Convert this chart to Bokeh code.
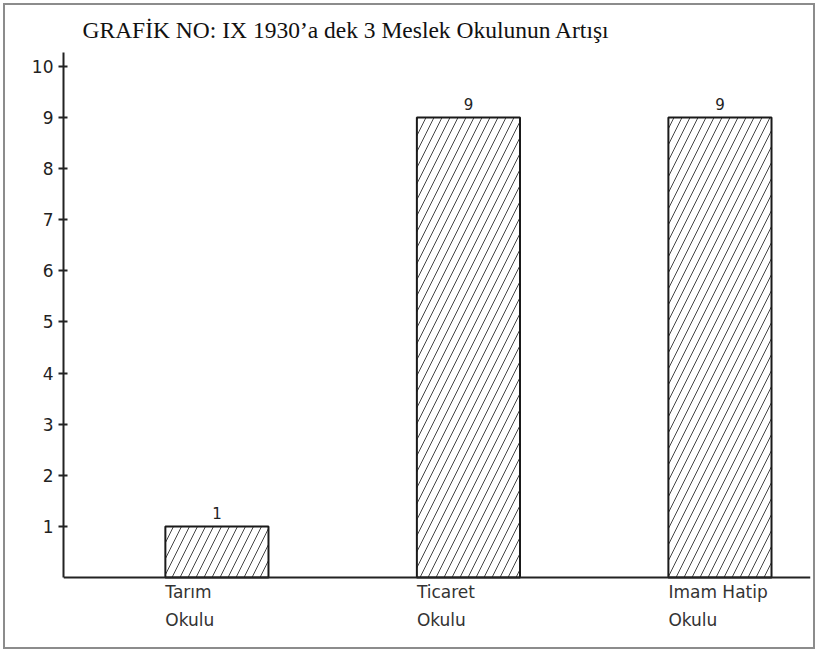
from bokeh.plotting import figure
from bokeh.models import Range1d, FixedTicker, Title, ColumnDataSource
from bokeh.core.properties import value
from bokeh.embed import file_html
from bokeh.resources import INLINE

# data
categories_line1 = ["Tarım", "Ticaret", "Imam Hatip"]
categories_line2 = ["Okulu", "Okulu", "Okulu"]
counts = [1, 9, 9]
y_ticks = [1, 2, 3, 4, 5, 6, 7, 8, 9, 10]
title_text = "GRAFİK NO: IX 1930’a dek 3 Meslek Okulunun Artışı"

bar_w = 0.41
xs = list(range(len(counts)))

p = figure(width=812, height=646, output_backend="svg", toolbar_location=None,
           x_range=Range1d(-0.61, 2.36), y_range=Range1d(-1.33, 10.27),
           x_axis_location=None,
           min_border_left=58, min_border_right=7, min_border_top=47, min_border_bottom=6)
p.title = Title(text=title_text, align="left", offset=19,
                text_font="Liberation Serif", text_font_size="23.5px",
                text_font_style="normal", text_color="#111111", standoff=19)
p.outline_line_color = None
p.grid.visible = False
p.background_fill_color = "white"
p.border_fill_color = "white"
p.styles = {"border": "2px solid #8c8c8c", "margin": "3px"}

src = ColumnDataSource(dict(x=xs, top=counts, lab=[str(c) for c in counts]))
p.vbar(x="x", top="top", width=bar_w, source=src, fill_color="white",
       line_color="#1a1a1a", line_width=2,
       hatch_pattern="right_diagonal_line", hatch_color="#444444",
       hatch_scale=16, hatch_weight=1)
p.text(x="x", y="top", text="lab", source=src, text_align="center",
       text_baseline="bottom", y_offset=-7, text_font=value("DejaVu Sans"),
       text_font_size="15px", text_color="#222222")

# baseline (x axis line) at zero
p.segment(x0=[-0.61], y0=[0], x1=[2.36], y1=[0], line_color="#222222", line_width=2)

# category labels, left aligned at bar left edge
lefts = [i - bar_w / 2 for i in xs]
p.text(x=lefts, y=[-0.29] * len(xs), text=categories_line1, text_align="left",
       text_baseline="middle", text_font=value("DejaVu Sans"),
       text_font_size="17px", text_color="#333333")
p.text(x=lefts, y=[-0.84] * len(xs), text=categories_line2, text_align="left",
       text_baseline="middle", text_font=value("DejaVu Sans"),
       text_font_size="17px", text_color="#333333")

ya = p.yaxis[0]
ya.ticker = FixedTicker(ticks=y_ticks)
ya.bounds = (0, 10.27)
ya.axis_line_width = 2
ya.axis_line_color = "#222222"
ya.major_tick_in = 4
ya.major_tick_out = 5
ya.major_tick_line_width = 2
ya.major_tick_line_color = "#222222"
ya.minor_tick_line_color = None
ya.major_label_standoff = 5
ya.major_label_text_font = "DejaVu Sans"
ya.major_label_text_font_size = "17px"
ya.major_label_text_color = "#222222"

open("out.html", "w").write(file_html(p, INLINE))
